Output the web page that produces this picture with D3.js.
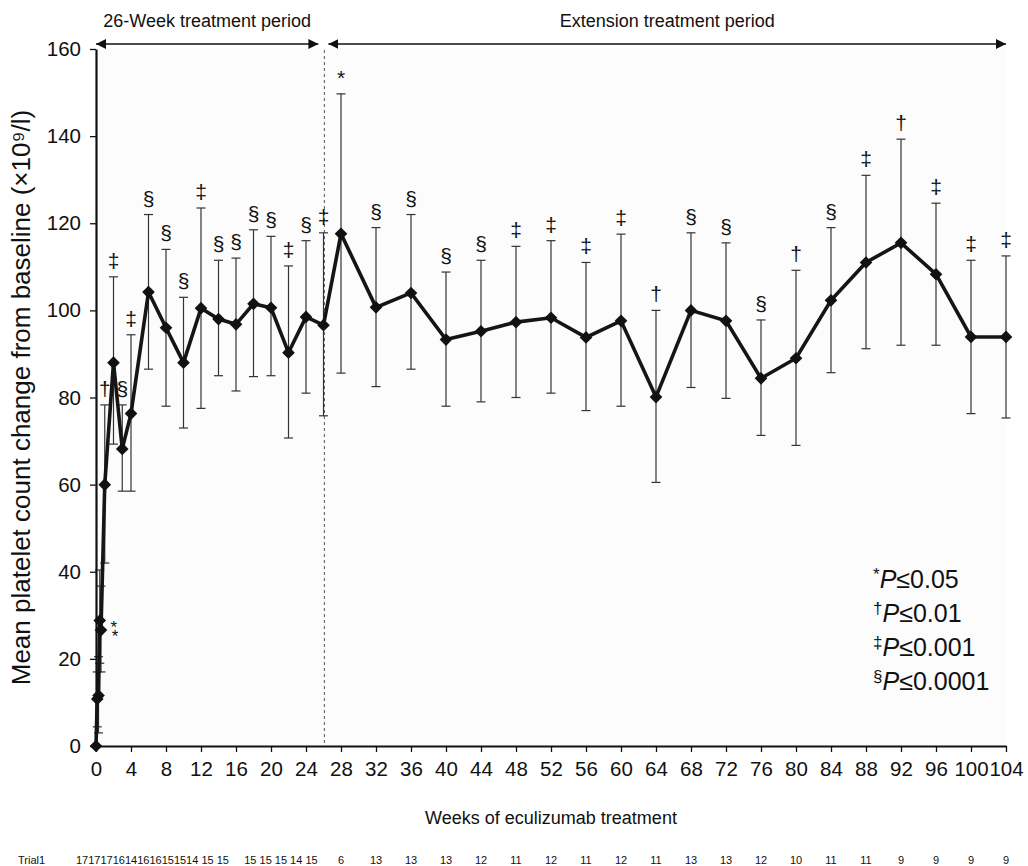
<!DOCTYPE html>
<html>
<head>
<meta charset="utf-8">
<script src="https://cdn.jsdelivr.net/npm/d3@7"></script>
<style>
  body { margin: 0; background: #fff; }
  text { font-family: "Liberation Sans", Arial, sans-serif; fill: #111; }
</style>
</head>
<body>
<svg id="chart" width="1028" height="866"></svg>
<script>
// Mean platelet count change from baseline, eculizumab trial

var weeks = [0, 0.14, 0.29, 0.43, 0.57, 1, 2, 3, 4, 6, 8, 10, 12, 14, 16, 18, 20, 22, 24, 26,
             28, 32, 36, 40, 44, 48, 52, 56, 60, 64, 68, 72, 76, 80, 84, 88, 92, 96, 100, 104];
var means = [0, 10.8, 11.6, 28.8, 26.6, 60, 88, 68.2, 76.3, 104.2, 96, 88, 100.5, 98, 96.8, 101.5, 100.6, 90.3, 98.5, 96.6,
             117.6, 100.7, 104, 93.3, 95.2, 97.3, 98.3, 93.8, 97.6, 80.1, 100, 97.6, 84.4, 89, 102.3, 111, 115.5, 108.3, 93.9, 93.9];
var upper = [null, 17, 20.5, 40.4, 36.7, 78.3, 107.7, 78.3, 94.4, 122, 114, 103, 123.5, 111.5, 112, 118.5, 117, 110.2, 116, 117.8,
             149.7, 119, 122, 108.8, 111.5, 114.7, 116, 111, 117.5, 100, 117.8, 115.5, 97.8, 109.2, 119, 131, 139.3, 124.6, 111.5, 112.5];
var lower = [null, 4.4, 3, 19, 17, 42, 69.3, 58.5, 58.5, 86.5, 78, 73, 77.5, 85, 81.5, 84.8, 85, 70.7, 81, 75.8,
             85.6, 82.5, 86.5, 78, 79, 80, 81, 77, 78, 60.5, 82.3, 79.8, 71.3, 69, 85.7, 91.2, 92, 92, 76.3, 75.3];
// significance marks; the two early stars sit beside their points
var sig = ["", "", "", "*", "*", "\u2020", "\u2021", "\u00a7", "\u2021", "\u00a7", "\u00a7", "\u00a7", "\u2021", "\u00a7", "\u00a7", "\u00a7", "\u00a7", "\u2021", "\u00a7", "\u2021",
           "*", "\u00a7", "\u00a7", "\u00a7", "\u00a7", "\u2021", "\u2021", "\u2021", "\u2021", "\u2020", "\u00a7", "\u00a7", "\u00a7", "\u2020", "\u00a7", "\u2021", "\u2020", "\u2021", "\u2021", "\u2021"];

var xTicks = d3.range(0, 105, 4);
var yTicks = d3.range(0, 161, 20);

var earlyCounts = [17, 17, 17, 16, 14, 16, 16, 15, 15, 14, 15, 15, 15, 15, 15, 14, 15];
var extWeeks = [28, 32, 36, 40, 44, 48, 52, 56, 60, 64, 68, 72, 76, 80, 84, 88, 92, 96, 100, 104];
var extCounts = [6, 13, 13, 13, 12, 11, 12, 11, 12, 11, 13, 13, 12, 10, 11, 11, 9, 9, 9, 9];

var legendSyms = ["*", "\u2020", "\u2021", "\u00a7"];
var legendVals = ["0.05", "0.01", "0.001", "0.0001"];

var plotL = 96, plotR = 1006, plotT = 49, plotB = 746;
var svg = d3.select("#chart");

var x = d3.scaleLinear().domain([0, 104]).range([plotL, plotR]);
var y = d3.scaleLinear().domain([0, 160]).range([plotB, plotT]);

var pts = weeks.map(function(w, i) {
  return { w: w, m: means[i], hi: upper[i], lo: lower[i], s: sig[i] };
});

// plot background
svg.append("rect").attr("x", plotL).attr("y", plotT)
  .attr("width", plotR - plotL).attr("height", plotB - plotT)
  .attr("fill", "#fcfcfc");

// end of the 26-week period
var split = x(26.1);
svg.append("line").attr("x1", split).attr("x2", split)
  .attr("y1", 50).attr("y2", plotB)
  .attr("stroke", "#555").attr("stroke-width", 1).attr("stroke-dasharray", "3,3");

// period arrows
var defs = svg.append("defs");
defs.append("marker").attr("id", "ah").attr("viewBox", "0 0 10 10")
  .attr("refX", 10).attr("refY", 5).attr("markerWidth", 10).attr("markerHeight", 10)
  .attr("markerUnits", "userSpaceOnUse").attr("orient", "auto-start-reverse")
  .append("path").attr("d", "M0,0 L10,5 L0,10 z").attr("fill", "#111");

var periods = [
  { a: x(0), b: split - 6, label: "26-Week treatment period" },
  { a: split + 4, b: x(104), label: "Extension treatment period" }
];
periods.forEach(function(p) {
  svg.append("line").attr("x1", p.a).attr("x2", p.b).attr("y1", 44).attr("y2", 44)
    .attr("stroke", "#111").attr("stroke-width", 1.5)
    .attr("marker-start", "url(#ah)").attr("marker-end", "url(#ah)");
  svg.append("text").attr("x", (p.a + p.b) / 2).attr("y", 27)
    .attr("text-anchor", "middle").style("font-size", "18px").text(p.label);
});

// error bars
var eb = svg.append("g").attr("stroke", "#333").attr("stroke-width", 1.2);
pts.filter(function(d) { return d.hi !== null; }).forEach(function(d) {
  var cx = x(d.w);
  eb.append("line").attr("x1", cx).attr("x2", cx).attr("y1", y(d.lo)).attr("y2", y(d.hi));
  eb.append("line").attr("x1", cx - 4.5).attr("x2", cx + 4.5).attr("y1", y(d.hi)).attr("y2", y(d.hi));
  eb.append("line").attr("x1", cx - 4.5).attr("x2", cx + 4.5).attr("y1", y(d.lo)).attr("y2", y(d.lo));
});

// axes
var yAxis = d3.axisLeft(y).tickValues(yTicks).tickSize(6).tickSizeOuter(0).tickPadding(9);
var xAxis = d3.axisBottom(x).tickValues(xTicks).tickSize(6).tickSizeOuter(0).tickPadding(9);

var gy = svg.append("g").attr("transform", "translate(" + plotL + ",0)").call(yAxis);
var gx = svg.append("g").attr("transform", "translate(0," + plotB + ")").call(xAxis);
[gx, gy].forEach(function(g) {
  g.select(".domain").attr("stroke", "#111").attr("stroke-width", 2.2);
  g.selectAll(".tick line").attr("stroke", "#111").attr("stroke-width", 1.3);
  g.selectAll(".tick text").style("font-size", "20.5px")
    .style("font-family", "'Liberation Sans', Arial, sans-serif").attr("fill", "#111");
});

// mean line and diamonds
var line = d3.line().x(function(d) { return x(d.w); }).y(function(d) { return y(d.m); });
svg.append("path").datum(pts).attr("d", line)
  .attr("fill", "none").attr("stroke", "#151515").attr("stroke-width", 3.6)
  .attr("stroke-linejoin", "miter");

var diamond = d3.symbol().type(d3.symbolSquare).size(80);
svg.append("g").selectAll("path").data(pts).enter().append("path")
  .attr("d", diamond)
  .attr("transform", function(d) { return "translate(" + x(d.w) + "," + y(d.m) + ") rotate(45)"; })
  .attr("fill", "#111");

// significance symbols
svg.append("g").selectAll("text").data(pts.filter(function(d) { return d.s; })).enter().append("text")
  .attr("x", function(d) { return d.w < 1 ? x(d.w) + 14 : x(d.w); })
  .attr("y", function(d) { return d.w < 1 ? y(d.m) + 12 : y(d.hi) - 9; })
  .attr("text-anchor", "middle")
  .style("font-size", function(d) { return d.w < 1 ? "17px" : "21px"; })
  .text(function(d) { return d.s; });

// axis titles
svg.append("text").attr("x", (plotL + plotR) / 2).attr("y", 824)
  .attr("text-anchor", "middle").style("font-size", "18px")
  .text("Weeks of eculizumab treatment");

svg.append("text").attr("transform", "translate(30," + ((plotT + plotB) / 2) + ") rotate(-90)")
  .attr("text-anchor", "middle").style("font-size", "26px")
  .text("Mean platelet count change from baseline (\u00d710\u2079/l)");

// legend
var lg = svg.append("g").selectAll("text").data(legendSyms).enter().append("text")
  .attr("x", 873).attr("y", function(d, i) { return 588 + i * 34; })
  .style("font-size", "25px");
lg.append("tspan").attr("dy", -8).style("font-size", "17px").text(function(d) { return d; });
lg.append("tspan").attr("dy", 8).style("font-style", "italic").text("P");
lg.append("tspan").text(function(d, i) { return "\u2264" + legendVals[i]; });

// patient numbers row
var tbl = svg.append("g").style("font-size", "11px");
tbl.append("text").attr("x", 18).attr("y", 864).text("Trial1");
tbl.append("text").attr("x", 76).attr("y", 864).style("white-space", "pre")
  .text(earlyCounts.slice(0, 10).join("") + " " + earlyCounts.slice(10, 12).join(" ") +
        "     " + earlyCounts.slice(12).join(" "));
tbl.selectAll("text.n").data(extWeeks).enter().append("text").attr("class", "n")
  .attr("x", function(d) { return x(d); }).attr("y", 864)
  .attr("text-anchor", "middle")
  .text(function(d, i) { return extCounts[i]; });
</script>
</body>
</html>
